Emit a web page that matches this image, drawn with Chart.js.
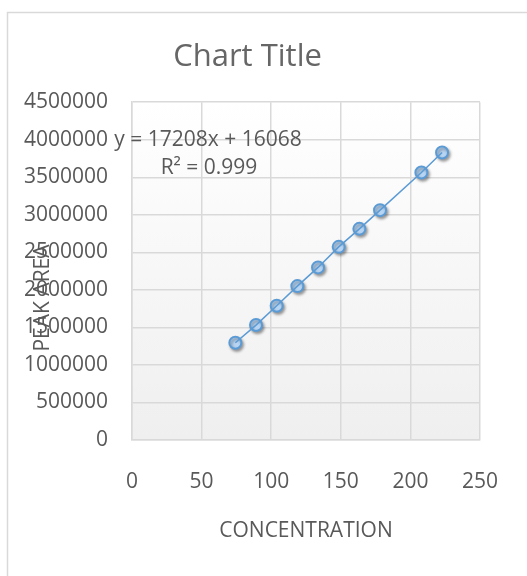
<!DOCTYPE html>
<html>
<head>
<meta charset="utf-8">
<script src="https://cdn.jsdelivr.net/npm/chart.js@4.4.1/dist/chart.umd.min.js"></script>
<style>
  html, body { margin: 0; padding: 0; background: #fff; }
  #wrap { width: 527px; height: 576px; position: relative; }
</style>
</head>
<body>
<div id="wrap"><canvas id="chart"></canvas></div>
<script>
// values
const concentration = [74.25, 89.1, 103.95, 118.8, 133.65, 148.5, 163.35, 178.2, 207.9, 222.75];
const peakArea = [1295000, 1531000, 1788000, 2050000, 2299000, 2573000, 2813000, 3062000, 3564000, 3830000];

const chartTitle = 'Chart Title';
const xTitle = 'CONCENTRATION';
const yTitle = 'PEAK AREA';
const trendEquation = 'y = 17208x + 16068';
const trendR2 = 'R² = 0.999';

const xTicks = { min: 0, max: 250, step: 50 };
const yTicks = { min: 0, max: 4500000, step: 500000 };

const textColor = '#595959';
const gridColor = '#d9d9d9';
const blue = '#5b9bd5';
const font = '"Open Sans", "Liberation Sans", sans-serif';

const points = concentration.map((x, i) => ({ x, y: peakArea[i] }));

// page frame + plot background gradient
const backdrop = {
  id: 'backdrop',
  beforeDraw(chart) {
    const { ctx, chartArea: a } = chart;
    ctx.save();
    ctx.fillStyle = '#fff';
    ctx.fillRect(0, 0, chart.width, chart.height);
    ctx.strokeStyle = gridColor;
    ctx.lineWidth = 1.5;
    ctx.strokeRect(7.5, 12.5, chart.width + 10, chart.height + 10);
    const g = ctx.createLinearGradient(0, a.top, 0, a.bottom);
    g.addColorStop(0, '#ffffff');
    g.addColorStop(1, '#efefef');
    ctx.fillStyle = g;
    ctx.fillRect(a.left, a.top, a.right - a.left, a.bottom - a.top);
    ctx.restore();
  },
  beforeDatasetDraw(chart, args) {
    if (args.index !== 1) return;
    const ctx = chart.ctx;
    ctx.save();
    ctx.shadowColor = 'rgba(0,0,0,0.35)';
    ctx.shadowBlur = 3;
    ctx.shadowOffsetX = 1.5;
    ctx.shadowOffsetY = 2;
  },
  afterDatasetDraw(chart, args) {
    if (args.index !== 1) return;
    chart.ctx.restore();
  },
  afterDraw(chart) {
    const { ctx, chartArea: a } = chart;
    ctx.save();
    ctx.fillStyle = textColor;
    ctx.font = '21px ' + font;
    ctx.textAlign = 'center';
    ctx.textBaseline = 'middle';
    // trendline label
    ctx.fillText(trendEquation, a.left + 76, a.top + 38);
    ctx.fillText(trendR2, a.left + 77, a.top + 66);
    // y axis title (sits over the tick labels like the original)
    ctx.translate(43, 298);
    ctx.rotate(-Math.PI / 2);
    ctx.fillText(yTitle, 0, 0);
    ctx.restore();
  }
};

new Chart(document.getElementById('chart'), {
  type: 'scatter',
  data: {
    datasets: [
      {
        // line drawn over the markers
        data: points,
        showLine: true,
        borderColor: blue,
        borderWidth: 1.5,
        pointRadius: 0,
        pointHoverRadius: 0
      },
      {
        data: points,
        showLine: false,
        pointRadius: 6,
        pointBorderWidth: 2,
        pointBorderColor: blue,
        pointBackgroundColor: '#b7d4f2'
      }
    ]
  },
  options: {
    responsive: true,
    maintainAspectRatio: false,
    animation: false,
    events: [],
    layout: { padding: { top: 12, left: 0, right: 32, bottom: 0 } },
    plugins: {
      legend: { display: false },
      tooltip: { enabled: false },
      title: {
        display: true,
        text: chartTitle,
        color: '#666',
        font: { family: font, size: 31, weight: 'normal' },
        padding: { top: 27, bottom: 26 }
      }
    },
    scales: {
      x: {
        type: 'linear',
        min: xTicks.min,
        max: xTicks.max,
        afterFit(s) { s.height = 136; },
        ticks: {
          stepSize: xTicks.step,
          color: textColor,
          padding: 29,
          font: { family: font, size: 21 }
        },
        grid: { color: gridColor, lineWidth: 1.5, drawTicks: false },
        border: { color: gridColor, width: 1.5 },
        title: {
          display: true,
          text: xTitle,
          color: textColor,
          font: { family: font, size: 21 },
          padding: { top: 0, bottom: 32 }
        }
      },
      y: {
        type: 'linear',
        min: yTicks.min,
        max: yTicks.max,
        afterFit(s) { s.width = 132; },
        ticks: {
          stepSize: yTicks.step,
          color: textColor,
          padding: 24,
          font: { family: font, size: 21 },
          callback: v => String(v)
        },
        grid: { color: gridColor, lineWidth: 1.5, drawTicks: false },
        border: { color: gridColor, width: 1.5 }
      }
    }
  },
  plugins: [backdrop]
});
</script>
</body>
</html>
